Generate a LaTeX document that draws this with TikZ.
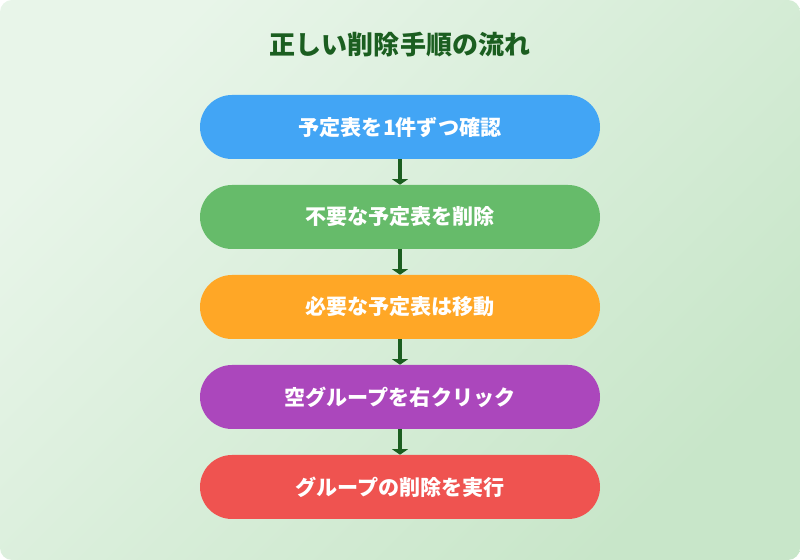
\documentclass[tikz,border=0pt]{standalone}
\usepackage{fontspec}
\setmainfont{Noto Sans CJK JP}
\usetikzlibrary{arrows.meta}
\definecolor{bgtop}{HTML}{E8F5E9}
\definecolor{bgbot}{HTML}{C8E6C9}
\definecolor{darkgreen}{HTML}{1B5E20}
\definecolor{stepblue}{HTML}{42A5F5}
\definecolor{stepgreen}{HTML}{66BB6A}
\definecolor{steporange}{HTML}{FFA726}
\definecolor{steppurple}{HTML}{AB47BC}
\definecolor{stepred}{HTML}{EF5350}
\tikzset{
  stepbox/.style={rectangle,rounded corners=0.8cm,minimum width=10cm,minimum height=1.6cm,
    text=white,font=\bfseries\fontsize{15}{18}\selectfont},
  flow/.style={-{Triangle[width=0.4cm,length=0.14cm]},line width=2.2pt,darkgreen}
}
\begin{document}
\begin{tikzpicture}[scale=1.0]
\useasboundingbox (0,0) rectangle (20,14);
\shade[rounded corners=0.3cm,top color=bgtop,bottom color=bgbot,shading angle=45] (0,0) rectangle (20,14);

\node[text=darkgreen,font=\bfseries\fontsize{18.5}{22}\selectfont] (title) at (10,12.875) {正しい削除手順の流れ};

\node[stepbox,fill=stepblue] (s1) at (10,10.825) {予定表を1件ずつ確認};
\node[stepbox,fill=stepgreen] (s2) at (10,8.575) {不要な予定表を削除};
\node[stepbox,fill=steporange] (s3) at (10,6.325) {必要な予定表は移動};
\node[stepbox,fill=steppurple] (s4) at (10,4.075) {空グループを右クリック};
\node[stepbox,fill=stepred] (s5) at (10,1.825) {グループの削除を実行};

\draw[flow] (s1) -- (s2);
\draw[flow] (s2) -- (s3);
\draw[flow] (s3) -- (s4);
\draw[flow] (s4) -- (s5);
\end{tikzpicture}
\end{document}
